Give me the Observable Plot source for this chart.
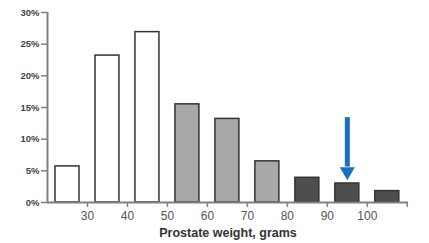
<!DOCTYPE html>
<html>
<head>
<meta charset="utf-8">
<script src="https://cdn.jsdelivr.net/npm/d3@7"></script>
<script src="https://cdn.jsdelivr.net/npm/@observablehq/plot@0.6"></script>
<style>
  html, body { margin: 0; padding: 0; background: #fff; }
  #chart svg { display: block; font-family: Arial, "Liberation Sans", sans-serif; }
</style>
</head>
<body>
<div id="chart"></div>
<script>
// Data
const binStart = [20, 30, 40, 50, 60, 70, 80, 90, 100];
const percent  = [5.7, 23.2, 26.9, 15.5, 13.2, 6.5, 3.9, 3.0, 1.8];
const group    = ["low", "low", "low", "mid", "mid", "mid", "high", "high", "high"];
const xTicks = [30, 40, 50, 60, 70, 80, 90, 100];
const xTickMarks = [30, 40, 50, 60, 70, 80, 90, 100, 110];
const yTicks = [0, 5, 10, 15, 20, 25, 30];
const xLabel = "Prostate weight, grams";
const arrowX = [95];
const arrowTop = [13.4];
const arrowBase = [5.6];
const arrowTip = [3.5];

const bins = binStart.map((s, i) => ({x1: s, x2: s + 10, y: percent[i], g: group[i]}));
const fills = {low: "#ffffff", mid: "#a8a8a8", high: "#4e4e4e"};
const axisColor = "#808080";
const blue = "#1a6fc1";

const chart = Plot.plot({
  width: 429,
  height: 243,
  marginLeft: 47,
  marginRight: 21,
  marginTop: 12,
  marginBottom: 41,
  x: {domain: [20, 110.3]},
  y: {domain: [0, 30]},
  marks: [
    Plot.rectY(bins, {x1: "x1", x2: "x2", y: "y", insetLeft: 8, insetRight: 8,
      fill: d => fills[d.g], stroke: "#333", strokeWidth: 1.5}),
    Plot.ruleY([0], {x1: 20, x2: 110.3, stroke: axisColor, strokeWidth: 2}),
    Plot.ruleX([20], {y1: 0, y2: 30, stroke: axisColor, strokeWidth: 2}),
    Plot.axisY({ticks: yTicks, tickFormat: d => d + "%", tickSize: 6, tickPadding: 2,
      stroke: axisColor, strokeWidth: 1.5, fill: "#444", fontSize: 9.5, fontWeight: "bold", label: null}),
    Plot.axisX({ticks: xTickMarks, tickFormat: () => "", tickSize: 5, stroke: axisColor, strokeWidth: 1.5, label: null}),
    Plot.axisX({ticks: xTicks, tickSize: 0, tickPadding: 9, fill: "#555", fontSize: 12, label: null}),
    Plot.text([xLabel], {frameAnchor: "bottom", dy: 30, lineAnchor: "middle", fontWeight: "bold", fontSize: 12.5, fill: "#333"}),
    Plot.ruleX(arrowX, {y1: arrowTop, y2: arrowBase, stroke: blue, strokeWidth: 5}),
    Plot.dot(arrowX, {x: d => d, y: arrowTip, dy: -8.7, symbol: "triangle", rotate: 180, r: 5.6, fill: blue, stroke: "none"})
  ]
});
document.getElementById("chart").appendChild(chart);
</script>
</body>
</html>
